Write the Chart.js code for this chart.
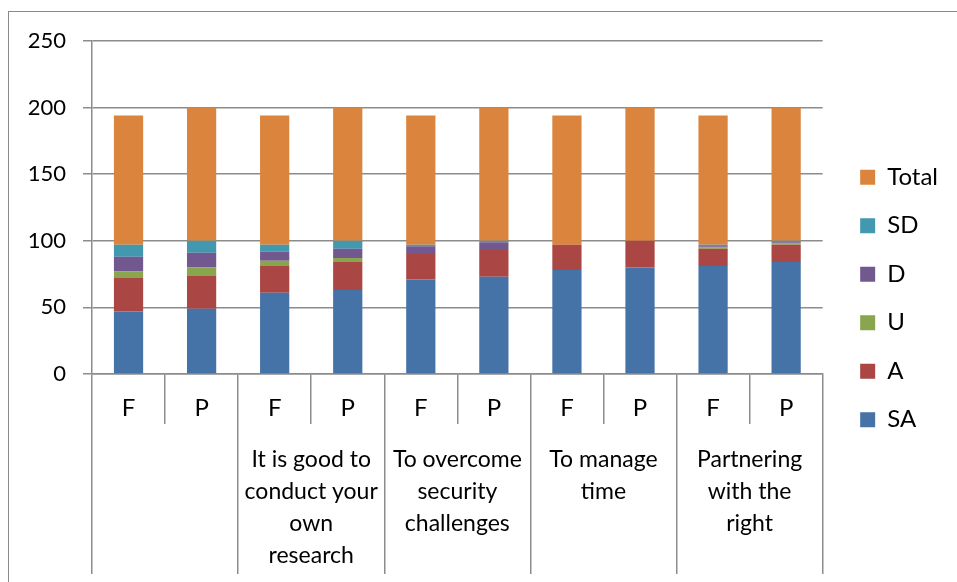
<!DOCTYPE html>
<html>
<head>
<meta charset="utf-8">
<script src="https://cdn.jsdelivr.net/npm/chart.js@4.4.1/dist/chart.umd.min.js"></script>
<style>
  body { margin: 0; background: #fff; }
  .wrap { position: relative; width: 957px; height: 582px; }
  .frame { position: absolute; left: 8px; top: 11px; right: 0; bottom: 0;
    border-left: 1.5px solid #8a8a8a; border-top: 1.5px solid #8a8a8a; pointer-events: none; }
</style>
</head>
<body>
<div class="wrap">
  <canvas id="myChart" width="957" height="582"></canvas>
  <div class="frame"></div>
</div>
<script>
const barLabels = ["F", "P", "F", "P", "F", "P", "F", "P", "F", "P"];
const groupLabels = [
  "",
  ["It is good to", "conduct your", "own", "research"],
  ["To overcome", "security", "challenges"],
  ["To manage", "time"],
  ["Partnering", "with the", "right"]
];
const yTicks = [0, 50, 100, 150, 200, 250];

const saData = [47, 49, 61, 63, 71, 73, 78, 80, 81, 84];
const aData = [25, 25, 20, 21, 19, 20, 19, 20, 13, 13];
const uData = [5, 6, 4, 3, 0, 0, 0, 0, 1, 1];
const dData = [11, 11, 7, 7, 6, 6, 0, 0, 1, 1];
const sdData = [9, 9, 5, 6, 1, 1, 0, 0, 1, 1];
const totalData = [97, 100, 97, 100, 97, 100, 97, 100, 97, 100];

const family = "Lato, 'Open Sans', sans-serif";
const gridColor = "#8c8c8c";

function ds(label, data, color) {
  return {
    label,
    data,
    backgroundColor: color,
    borderWidth: 0,
    barPercentage: 0.4,
    categoryPercentage: 1
  };
}

const chartData = {
  labels: barLabels,
  datasets: [
    ds("SA", saData, "#4572A7"),
    ds("A", aData, "#AA4643"),
    ds("U", uData, "#89A54E"),
    ds("D", dData, "#71588F"),
    ds("SD", sdData, "#4198AF"),
    ds("Total", totalData, "#DB843D")
  ]
};

// nudge the legend to where the original sits
const legendShift = {
  id: "legendShift",
  afterLayout(chart) {
    const lg = chart.legend;
    lg.left += 13; lg.right += 13;
    lg.top -= 9; lg.bottom -= 9;
  }
};

new Chart(document.getElementById("myChart"), {
  type: "bar",
  data: chartData,
  plugins: [legendShift],
  options: {
    responsive: false,
    animation: false,
    layout: { padding: { top: 41, right: 22, bottom: 8, left: 0 } },
    plugins: {
      tooltip: { enabled: false },
      legend: {
        position: "right",
        reverse: true,
        labels: {
          color: "#000",
          font: { family, size: 24 },
          boxWidth: 15,
          boxHeight: 15,
          padding: 24.5
        }
      }
    },
    scales: {
      y: {
        stacked: true,
        min: 0,
        max: 250,
        afterBuildTicks: (scale) => { scale.ticks = yTicks.map(v => ({ value: v })); },
        afterFit: (scale) => { scale.width = 92; },
        ticks: { color: "#000", font: { family, size: 22 }, padding: 17 },
        grid: { color: gridColor, lineWidth: 1.5, tickLength: 9 },
        border: { color: gridColor, width: 1.5 }
      },
      x: {
        stacked: true,
        afterFit: (scale) => { scale.height = 50; },
        ticks: { color: "#000", font: { family, size: 24 }, padding: -30, maxRotation: 0, autoSkip: false },
        grid: { offset: true, drawOnChartArea: false, color: gridColor, lineWidth: 1.5, tickLength: 50 },
        border: { color: gridColor, width: 1.5 }
      },
      x2: {
        type: "category",
        position: "bottom",
        labels: groupLabels,
        afterFit: (scale) => { scale.height = 150; },
        ticks: { color: "#000", font: { family, size: 23, lineHeight: 1.4 }, padding: -131, maxRotation: 0, autoSkip: false },
        grid: { offset: true, drawOnChartArea: false, color: gridColor, lineWidth: 1.5, tickLength: 150 },
        border: { display: false }
      }
    }
  }
});
</script>
</body>
</html>
